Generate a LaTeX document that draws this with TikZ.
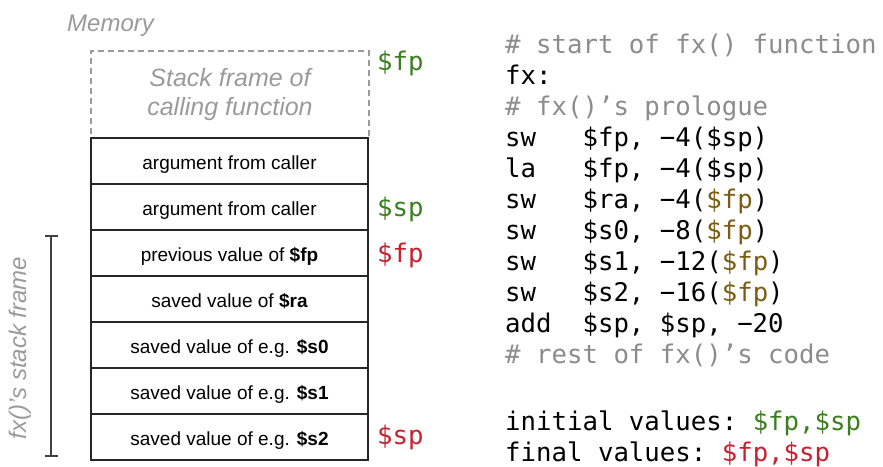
\documentclass[tikz,border=0pt]{standalone}
\usepackage{fontspec}
\setmainfont{Liberation Sans}
\setmonofont{DejaVu Sans Mono}
\usetikzlibrary{arrows.meta}
\definecolor{grn}{HTML}{3A7F1E}
\definecolor{rd}{HTML}{C7212F}
\definecolor{brn}{HTML}{7B5C12}
\definecolor{cmt}{HTML}{8C8C8C}
\definecolor{lbl}{HTML}{9A9A9A}
\definecolor{boxline}{HTML}{262626}
\begin{document}
\begin{tikzpicture}[x=1pt,y=-1pt,
  row/.style={draw=boxline, line width=1.7pt, minimum width=277pt, minimum height=46pt,
    inner sep=0pt, font=\fontsize{19}{22}\selectfont, text height=16pt, text depth=0pt},
  calling/.style={draw=lbl, dashed, dash pattern=on 6pt off 4pt, line width=1.6pt,
    minimum width=278pt, minimum height=87pt, inner sep=0pt, align=center,
    text=lbl, font=\fontsize{25}{29}\selectfont\itshape},
  glabel/.style={text=lbl, font=\fontsize{24}{28}\selectfont\itshape, inner sep=0pt},
  code/.style={anchor=base west, inner sep=0pt, font=\ttfamily\fontsize{25.7}{31}\selectfont},
  reg/.style={code},
  bracket/.style={draw=black!75, line width=1.7pt}
]
\useasboundingbox (0,0) rectangle (883,466);

% memory column
\node[glabel, anchor=base west] (mem) at (67,31) {Memory};
\node[calling] (caller) at (230,94.5) {Stack frame of\\calling function};
\node[row] (r1) at (229.5,161) {argument from caller};
\node[row] (r2) at (229.5,207) {argument from caller};
\node[row] (r3) at (229.5,253) {previous value of \textbf{\$fp}};
\node[row] (r4) at (229.5,299) {saved value of \textbf{\$ra}};
\node[row] (r5) at (229.5,345) {saved value of e.g. \textbf{\$s0}};
\node[row] (r6) at (229.5,391) {saved value of e.g. \textbf{\$s1}};
\node[row] (r7) at (229.5,437) {saved value of e.g. \textbf{\$s2}};

% extent of the new frame
\coordinate (bt) at (51,235);
\coordinate (bb) at (51,457);
\draw[bracket, {Bar[width=13pt]}-{Bar[width=13pt]}] (bt) -- (bb);
\node[glabel, rotate=90] (framelbl) at (20,348) {fx()’s stack frame};

% register positions
\node[reg, text=grn] (fp0) at (377,70) {\$fp};
\node[reg, text=grn] (sp0) at (377,216) {\$sp};
\node[reg, text=rd] (fp1) at (377,262) {\$fp};
\node[reg, text=rd] (sp1) at (377,444) {\$sp};

% prologue listing
\node[code, text=cmt] (c0) at (505,53) {\# start of fx() function};
\node[code] (c1) at (505,84) {fx:};
\node[code, text=cmt] (c2) at (505,115) {\# fx()’s prologue};
\node[code] (c3) at (505,146) {sw~~~\$fp, −4(\$sp)};
\node[code] (c4) at (505,177) {la~~~\$fp, −4(\$sp)};
\node[code] (c5) at (505,208) {sw~~~\$ra, −4(\textcolor{brn}{\$fp})};
\node[code] (c6) at (505,239) {sw~~~\$s0, −8(\textcolor{brn}{\$fp})};
\node[code] (c7) at (505,270) {sw~~~\$s1, −12(\textcolor{brn}{\$fp})};
\node[code] (c8) at (505,301) {sw~~~\$s2, −16(\textcolor{brn}{\$fp})};
\node[code] (c9) at (505,332) {add~~\$sp, \$sp, −20};
\node[code, text=cmt] (c10) at (505,363) {\# rest of fx()’s code};
\node[code] (c12) at (505,430) {initial values: \textcolor{grn}{\$fp,\$sp}};
\node[code] (c13) at (505,461) {final values: \textcolor{rd}{\$fp,\$sp}};
\end{tikzpicture}
\end{document}
